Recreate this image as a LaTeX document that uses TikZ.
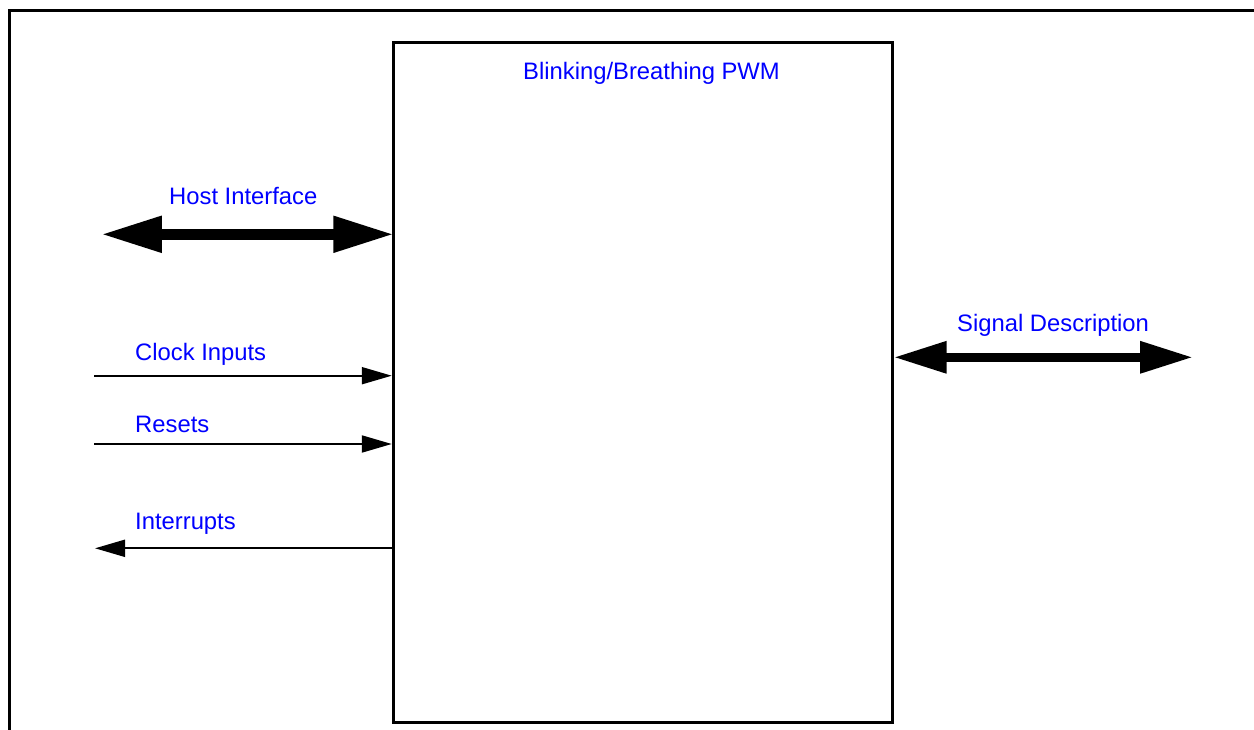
\documentclass[tikz,border=0pt]{standalone}
\usepackage{fontspec}
\setmainfont{Liberation Sans}
\usetikzlibrary{arrows.meta,calc}

\begin{document}
\begin{tikzpicture}[x=1pt,y=-1pt,>={Triangle[length=30pt,width=17pt]}]
    \tikzstyle{blk}=[draw=black, line width=3pt, inner sep=0pt, minimum width=499pt, minimum height=679pt]
    \tikzstyle{lbl}=[text=blue, font=\fontsize{23.8}{28}\selectfont, anchor=base west, inner sep=0pt]
    \tikzstyle{sig}=[line width=2pt]
    \tikzstyle{bus}=[line width=11pt, {Triangle[length=61pt,width=34pt]}-{Triangle[length=61pt,width=34pt]}]
    \tikzstyle{pin}=[line width=9pt, {Triangle[length=53pt,width=30pt]}-{Triangle[length=53pt,width=30pt]}]
    \useasboundingbox (0,0) rectangle (1254,730);
    \draw[line width=2.3pt] (9.5,730) -- (9.5,10.5) -- (1254,10.5);
    \node[blk] (pwm) at (642.75,382.5) {};
    \node[lbl, anchor=base] (title) at (651.5,79.5) {Blinking/Breathing PWM};
    \coordinate (hostL) at (100.8,234.3);
    \coordinate (sigL) at (893.5,357.3);
    \coordinate (sigR) at (1193.2,357.3);
    \coordinate (clkL) at (94,375.7);
    \coordinate (rstL) at (94,444);
    \coordinate (intL) at (95,548.3);
    \draw[bus] (hostL) -- ($(hostL -| pwm.west)+(2.5,0)$);
    \draw[pin] (sigL) -- (sigR);
    \draw[sig,->] (clkL) -- (clkL -| pwm.west);
    \draw[sig,->] (rstL) -- (rstL -| pwm.west);
    \draw[sig,<-] (intL) -- (intL -| pwm.west);
    \node[lbl] (host) at (169,205) {Host Interface};
    \node[lbl] (sigdesc) at (957,331.7) {Signal Description};
    \node[lbl] (clk) at (135,360) {Clock Inputs};
    \node[lbl] (rst) at (135,432.5) {Resets};
    \node[lbl] (int) at (135,529) {Interrupts};
\end{tikzpicture}
\end{document}
